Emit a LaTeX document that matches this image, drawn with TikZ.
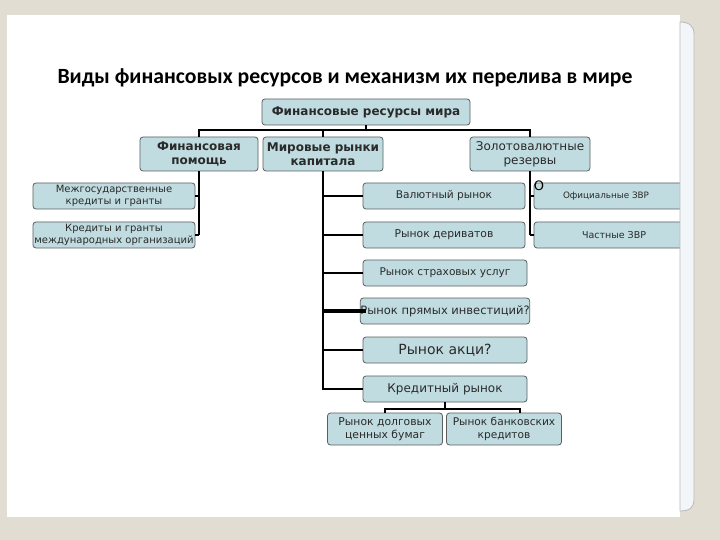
\documentclass[tikz,border=0pt]{standalone}
\usepackage{fontspec}
\setmainfont{DejaVu Sans}
\newfontfamily\titlefont{Carlito}
\definecolor{bg}{HTML}{E2DDD3}
\definecolor{boxfill}{HTML}{C0DCE0}
\definecolor{boxline}{HTML}{5A5F60}
\definecolor{txt}{HTML}{2A2A2A}
\definecolor{curl}{HTML}{F3F6F9}
\begin{document}
\begin{tikzpicture}[x=1pt,y=-1pt,
  box/.style={draw=boxline, line width=0.8pt, fill=boxfill, rounded corners=3pt,
    inner sep=0pt, align=center, text=txt},
  bigbox/.style={box, font=\bfseries\fontsize{12}{14}\selectfont},
  smallbox/.style={box, font=\fontsize{10}{11.5}\selectfont},
  conn/.style={line width=2pt, black},
]
\useasboundingbox (0,0) rectangle (720,540);
\fill[bg] (0,0) rectangle (720,540);
\fill[white] (7,15) rectangle (680,517);

\node[font=\titlefont\bfseries\fontsize{21.7}{24}\selectfont] (title) at (345,78)
  {Виды финансовых ресурсов и механизм их перелива в мире};

% level 1-2
\node[bigbox, minimum width=208, minimum height=26] (top) at (366,112) {Финансовые ресурсы мира};
\node[bigbox, minimum width=118, minimum height=34] (fp) at (199,154) {Финансовая\\помощь};
\node[bigbox, minimum width=120, minimum height=34] (mr) at (323,154) {Мировые рынки\\капитала};
\node[box, font=\fontsize{12}{14}\selectfont, minimum width=120, minimum height=34] (zr) at (530,154) {Золотовалютные\\резервы};

% left column
\node[smallbox, minimum width=162, minimum height=26] (mg1) at (114,196) {Межгосударственные\\кредиты и гранты};
\node[smallbox, minimum width=162, minimum height=26] (mg2) at (114,235) {Кредиты и гранты\\международных организаций};

% middle column
\node[smallbox, font=\fontsize{10.6}{12}\selectfont, minimum width=162, minimum height=26] (vr) at (444,196) {Валютный рынок};
\node[smallbox, font=\fontsize{10.8}{12}\selectfont, minimum width=162, minimum height=26] (dr) at (444,235) {Рынок дериватов};
\node[smallbox, font=\fontsize{10.6}{12}\selectfont, minimum width=164, minimum height=26] (sr) at (445,273) {Рынок страховых услуг};
\node[smallbox, font=\fontsize{11.5}{12}\selectfont, minimum width=164, minimum height=26] (pr) at (445,311) {Рынок прямых инвестиций?};
\node[smallbox, font=\fontsize{14}{15}\selectfont, minimum width=164, minimum height=26] (ar) at (445,350) {Рынок акци?};
\node[smallbox, font=\fontsize{12}{14}\selectfont, minimum width=164, minimum height=26] (kr) at (445,389) {Кредитный рынок};
\node[smallbox, font=\fontsize{10.8}{12.5}\selectfont, minimum width=115, minimum height=32] (db) at (385,429) {Рынок долговых\\ценных бумаг};
\node[smallbox, font=\fontsize{10.6}{12.5}\selectfont, minimum width=115, minimum height=32] (bb) at (504,429) {Рынок банковских\\кредитов};

% right column (cut at page edge)
\begin{scope}
\clip (0,0) rectangle (680,540);
\node[smallbox, font=\fontsize{8.8}{11}\selectfont, minimum width=156, minimum height=26] (zv1) at (612,196) {\hspace*{-12pt}Официальные ЗВР};
\node[smallbox, font=\fontsize{9.5}{11}\selectfont, minimum width=156, minimum height=26] (zv2) at (612,235) {\hspace*{4pt}Частные ЗВР};
\end{scope}
\node[font=\fontsize{13}{14}\selectfont, inner sep=0pt] (o) at (539,186) {O};

% connectors level 1
\coordinate (busL) at (198,130);
\draw[conn] (top.south) -- (top.south |- busL);
\draw[conn] (fp.north) -- (fp.north |- busL) -- (zr.north |- busL) -- (zr.north);
\draw[conn] (mr.north) -- (mr.north |- busL);

% left tree
\draw[conn] (fp.south) -- (fp.south |- mg2.east);
\draw[conn] (fp.south |- mg1.east) -- (mg1.east);
\draw[conn] (fp.south |- mg2.east) -- (mg2.east);

% middle tree
\draw[conn] (mr.south) -- (mr.south |- kr.west) -- (kr.west);
\foreach \n in {vr,dr,sr,ar}{\draw[conn] (mr.south |- \n.west) -- (\n.west);}
\draw[line width=3.5pt] (mr.south |- pr.west) -- ([xshift=6pt]pr.west);

% right tree
\draw[conn] (zr.south) -- (zr.south |- zv2.west);
\draw[conn] (zr.south |- zv1.west) -- (zv1.west);
\draw[conn] (zr.south |- zv2.west) -- (zv2.west);

% credit market subtree
\coordinate (kbus) at (445,409);
\coordinate (kbr) at (520,409);
\draw[conn] (kr.south) -- (kr.south |- kbus);
\draw[conn] (db.north) -- (db.north |- kbus) -- (kbr) -- (kbr |- bb.north);

% page curl
\draw[draw=gray!55, fill=curl, line width=0.8pt]
  (680,22) .. controls (689,22) and (694,26) .. (694,34) -- (694,500)
  .. controls (694,507) and (690,511) .. (680,511) -- cycle;
\end{tikzpicture}
\end{document}
